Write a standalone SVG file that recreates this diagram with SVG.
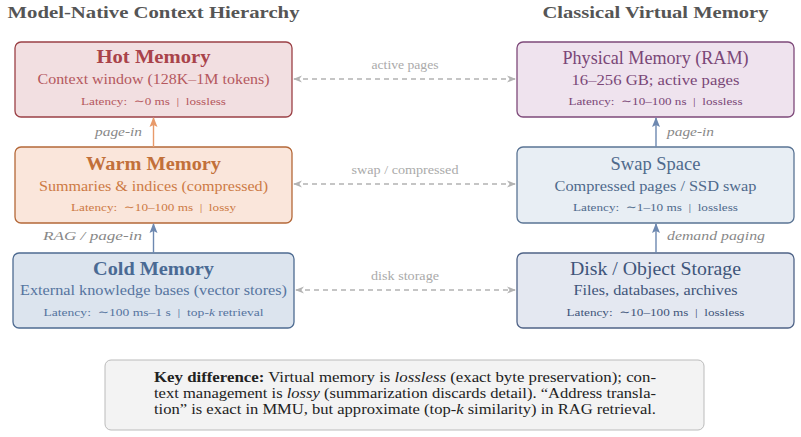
<svg xmlns="http://www.w3.org/2000/svg" width="801" height="437" viewBox="0 0 801 437" font-family="'Liberation Serif', 'DejaVu Serif', serif">
<style>
text{font-family:'Liberation Serif','DejaVu Serif',serif}
.hdr{font-size:17px;font-weight:bold;fill:#555555}
.t{font-size:18px;text-anchor:middle}
.b{font-weight:bold}
.s{font-size:14px;text-anchor:middle}
.l{font-size:11px;text-anchor:middle}
.cl{font-size:11.5px;fill:#aaaaaa;text-anchor:middle}
.vl{font-size:13.5px;fill:#888888;font-style:italic}
.dash{stroke:#b3b3b3;stroke-width:1.3;stroke-dasharray:5 4;fill:none}
.note{font-size:14px;fill:#222222;text-anchor:middle}
</style>
<defs>
<marker id="ag" viewBox="0 0 10 10" refX="9" refY="5" markerWidth="9" markerHeight="9" markerUnits="userSpaceOnUse" orient="auto-start-reverse"><path d="M0,1 L10,5 L0,9 L3,5 Z" fill="#b3b3b3"/></marker>
<marker id="ao" viewBox="0 0 10 10" refX="9" refY="5" markerWidth="10" markerHeight="10" markerUnits="userSpaceOnUse" orient="auto"><path d="M0,1 L10,5 L0,9 L2,5 Z" fill="#e89a6a"/></marker>
<marker id="ab" viewBox="0 0 10 10" refX="9" refY="5" markerWidth="10" markerHeight="10" markerUnits="userSpaceOnUse" orient="auto"><path d="M0,1 L10,5 L0,9 L2,5 Z" fill="#6d88b0"/></marker>
</defs>

<text class="hdr" x="153.5" y="18" text-anchor="middle" textLength="292" lengthAdjust="spacingAndGlyphs">Model-Native Context Hierarchy</text>
<text class="hdr" x="655.5" y="18" text-anchor="middle" textLength="226" lengthAdjust="spacingAndGlyphs">Classical Virtual Memory</text>

<g id="hot">
<rect x="15" y="42" width="277" height="75" rx="6" fill="#f2dfe1" stroke="#9b4045" stroke-width="1.3"/>
<text class="t b" x="153.5" y="63" fill="#a9434a" textLength="114" lengthAdjust="spacingAndGlyphs">Hot Memory</text>
<text class="s" x="153.5" y="84" fill="#b5585e" textLength="232" lengthAdjust="spacingAndGlyphs">Context window (128K–1M tokens)</text>
<text class="l" x="153.5" y="105" fill="#b5585e" textLength="145" lengthAdjust="spacingAndGlyphs">Latency:&#160; ∼0 ms&#160; |&#160; lossless</text>
</g>

<g id="warm">
<rect x="15" y="147" width="277" height="76" rx="6" fill="#fae6db" stroke="#b46838" stroke-width="1.3"/>
<text class="t b" x="153.5" y="170" fill="#c2703a" textLength="135" lengthAdjust="spacingAndGlyphs">Warm Memory</text>
<text class="s" x="153.5" y="191" fill="#cd7a45" textLength="229" lengthAdjust="spacingAndGlyphs">Summaries &amp; indices (compressed)</text>
<text class="l" x="153.5" y="211" fill="#cd7a45" textLength="165" lengthAdjust="spacingAndGlyphs">Latency:&#160; ∼10–100 ms&#160; |&#160; lossy</text>
</g>

<g id="cold">
<rect x="13" y="253" width="281" height="75" rx="6" fill="#dce4ee" stroke="#4e6b91" stroke-width="1.3"/>
<text class="t b" x="153.5" y="275" fill="#4a6a94" textLength="121" lengthAdjust="spacingAndGlyphs">Cold Memory</text>
<text class="s" x="153.5" y="295" fill="#5674a0" textLength="267" lengthAdjust="spacingAndGlyphs">External knowledge bases (vector stores)</text>
<text class="l" x="153.5" y="316" fill="#5674a0" textLength="220" lengthAdjust="spacingAndGlyphs">Latency:&#160; ∼100 ms–1 s&#160; |&#160; top-<tspan font-style="italic">k</tspan> retrieval</text>
</g>

<g id="ram">
<rect x="517" y="42" width="277" height="75" rx="6" fill="#efe3ee" stroke="#7e4a7a" stroke-width="1.3"/>
<text class="t" x="655.5" y="64" fill="#7a4777" textLength="186" lengthAdjust="spacingAndGlyphs">Physical Memory (RAM)</text>
<text class="s" x="655.5" y="85" fill="#7a4777" textLength="168" lengthAdjust="spacingAndGlyphs">16–256 GB; active pages</text>
<text class="l" x="655.5" y="105" fill="#7a4777" textLength="174" lengthAdjust="spacingAndGlyphs">Latency:&#160; ∼10–100 ns&#160; |&#160; lossless</text>
</g>

<g id="swap">
<rect x="517" y="147" width="277" height="76" rx="6" fill="#e8eef4" stroke="#5a7494" stroke-width="1.3"/>
<text class="t" x="655.5" y="170" fill="#4f6a8c" textLength="90" lengthAdjust="spacingAndGlyphs">Swap Space</text>
<text class="s" x="655.5" y="191" fill="#4f6a8c" textLength="202" lengthAdjust="spacingAndGlyphs">Compressed pages / SSD swap</text>
<text class="l" x="655.5" y="211" fill="#4f6a8c" textLength="165" lengthAdjust="spacingAndGlyphs">Latency:&#160; ∼1–10 ms&#160; |&#160; lossless</text>
</g>

<g id="disk">
<rect x="517" y="253" width="277" height="75" rx="6" fill="#e4e8f1" stroke="#4f6387" stroke-width="1.3"/>
<text class="t" x="655.5" y="275" fill="#3f557a" textLength="171" lengthAdjust="spacingAndGlyphs">Disk / Object Storage</text>
<text class="s" x="655.5" y="295" fill="#3f557a" textLength="164" lengthAdjust="spacingAndGlyphs">Files, databases, archives</text>
<text class="l" x="655.5" y="316" fill="#3f557a" textLength="178" lengthAdjust="spacingAndGlyphs">Latency:&#160; ∼10–100 ms&#160; |&#160; lossless</text>
</g>

<g id="connectors">
<line class="dash" x1="294" y1="79" x2="515" y2="79" marker-start="url(#ag)" marker-end="url(#ag)"/>
<text class="cl" x="405" y="69" textLength="67" lengthAdjust="spacingAndGlyphs">active pages</text>
<line class="dash" x1="294" y1="184" x2="515" y2="184" marker-start="url(#ag)" marker-end="url(#ag)"/>
<text class="cl" x="405" y="174" textLength="107" lengthAdjust="spacingAndGlyphs">swap / compressed</text>
<line class="dash" x1="296" y1="290" x2="515" y2="290" marker-start="url(#ag)" marker-end="url(#ag)"/>
<text class="cl" x="405" y="280" textLength="68" lengthAdjust="spacingAndGlyphs">disk storage</text>

<line x1="153.5" y1="147" x2="153.5" y2="118" stroke="#e89a6a" stroke-width="1.4" marker-end="url(#ao)"/>
<text class="vl" x="142" y="136" text-anchor="end" textLength="47" lengthAdjust="spacingAndGlyphs">page-in</text>
<line x1="153.5" y1="253" x2="153.5" y2="224" stroke="#6d88b0" stroke-width="1.4" marker-end="url(#ab)"/>
<text class="vl" x="142" y="240" text-anchor="end" textLength="99" lengthAdjust="spacingAndGlyphs">RAG / page-in</text>
<line x1="656" y1="147" x2="656" y2="118" stroke="#6d88b0" stroke-width="1.4" marker-end="url(#ab)"/>
<text class="vl" x="667" y="136" textLength="47" lengthAdjust="spacingAndGlyphs">page-in</text>
<line x1="656" y1="253" x2="656" y2="224" stroke="#6d88b0" stroke-width="1.4" marker-end="url(#ab)"/>
<text class="vl" x="667" y="240" textLength="98" lengthAdjust="spacingAndGlyphs">demand paging</text>
</g>

<g id="note">
<rect x="105" y="360" width="599" height="70" rx="6" fill="#f3f3f3" stroke="#bbbbbb" stroke-width="1"/>
<text class="note" x="405" y="382" textLength="502" lengthAdjust="spacingAndGlyphs"><tspan font-weight="bold">Key difference:</tspan> Virtual memory is <tspan font-style="italic">lossless</tspan> (exact byte preservation); con-</text>
<text class="note" x="405" y="398" textLength="502" lengthAdjust="spacingAndGlyphs">text management is <tspan font-style="italic">lossy</tspan> (summarization discards detail). “Address transla-</text>
<text class="note" x="405" y="414" textLength="502" lengthAdjust="spacingAndGlyphs">tion” is exact in MMU, but approximate (top-<tspan font-style="italic">k</tspan> similarity) in RAG retrieval.</text>
</g>
</svg>
